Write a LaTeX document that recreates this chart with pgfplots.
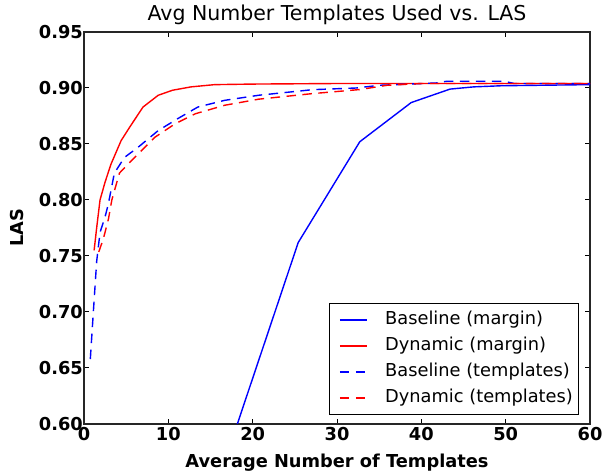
\documentclass[border=0pt]{standalone}
\usepackage{fontspec}
\setmainfont{DejaVu Sans}
\usepackage{pgfplots}
\pgfplotsset{compat=1.18}

\newcommand{\tfont}{\fontsize{17.8}{21}\selectfont}

\begin{document}
\begin{tikzpicture}
\begin{axis}[
    scale only axis,
    width=506pt, height=392pt,
    xmin=0, xmax=60, ymin=0.60, ymax=0.95,
    xtick={0,10,...,60},
    ytick={0.60,0.65,...,0.95},
    /pgf/number format/assume math mode=true,
    ticklabel style={font=\tfont\bfseries},
    yticklabel style={/pgf/number format/fixed, /pgf/number format/fixed zerofill, /pgf/number format/precision=2, inner xsep=1pt},
    major tick length=5pt,
    tick style={black, line width=1pt},
    axis line style={black!85, line width=1.3pt},
    title={Avg Number Templates Used vs. LAS},
    title style={font=\fontsize{20.5}{24}\selectfont, at={(axis description cs:0.5,1)}, anchor=south, inner sep=0pt, yshift=1pt},
    xlabel={Average Number of Templates},
    xlabel style={font=\tfont\bfseries, at={(axis description cs:0.5,-0.076)}, anchor=north, inner sep=0pt},
    ylabel={LAS},
    ylabel style={font=\tfont\bfseries, at={(axis description cs:-0.119,0.5)}, anchor=south, inner sep=0pt},
    legend style={at={(axis description cs:0.978,0.023)}, anchor=south east,
        font=\tfont, draw=black, line width=1pt, inner xsep=3pt, inner ysep=3.5pt,
        column sep=15pt,
        nodes={inner xsep=2.5pt, inner ysep=4.25pt, text height=13pt, text depth=4.5pt}},
    legend cell align=left,
    legend image code/.code={\path (0pt,0pt); \draw[#1] (6.5pt,0pt) -- (33.5pt,0pt);},
    every axis plot/.append style={line width=1.4pt},
]
\addplot[blue] coordinates {
    (16.0,0.551) (25.4,0.762) (32.7,0.852) (38.8,0.887) (43.4,0.899)
    (46.2,0.901) (49.5,0.902) (60,0.903)
};
\addlegendentry{Baseline (margin)}
\addplot[red] coordinates {
    (1.2,0.755) (1.5,0.775) (1.9,0.800) (2.5,0.816) (3.2,0.832) (4.4,0.853)
    (5.5,0.866) (7.0,0.883) (8.8,0.8935) (10.5,0.898) (12.7,0.901) (15.5,0.903)
    (20,0.9035) (30,0.904) (45,0.904) (60,0.904)
};
\addlegendentry{Dynamic (margin)}
\addplot[blue, dash pattern=on 9.5pt off 6.5pt] coordinates {
    (0.75,0.658) (1.1,0.699) (1.3,0.722) (1.5,0.745) (1.9,0.771) (2.5,0.785)
    (2.9,0.797) (3.6,0.824) (4.8,0.838) (6.4,0.847) (8.8,0.862) (11.2,0.873)
    (13.5,0.883) (16.7,0.889) (20.7,0.8935) (27.1,0.8985) (32.3,0.900)
    (35,0.9024) (41.8,0.9045) (43,0.906) (49.8,0.906) (51,0.904) (60,0.904)
};
\addlegendentry{Baseline (templates)}
\addplot[red, dash pattern=on 9.5pt off 6.5pt] coordinates {
    (1.75,0.7536) (2.3,0.7655) (2.9,0.783) (3.3,0.800) (4.2,0.824) (6.0,0.838)
    (8.4,0.856) (10.8,0.868) (13.2,0.877) (16.7,0.8846) (20.7,0.890)
    (27.1,0.895) (32.7,0.8986) (35.9,0.9024) (40,0.904) (60,0.904)
};
\addlegendentry{Dynamic (templates)}
\end{axis}
\pgfresetboundingbox
\path ([shift={(-84pt,-48pt)}]current axis.south west) rectangle ([shift={(16pt,32pt)}]current axis.north east);
\end{tikzpicture}
\end{document}
